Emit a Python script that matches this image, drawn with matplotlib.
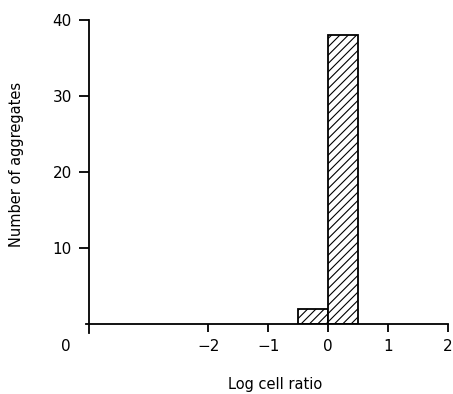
import matplotlib
matplotlib.use("Agg")
from matplotlib import pyplot as plt

plt.rcParams['hatch.linewidth'] = 0.8

bin_edges = [-0.5, 0.0, 0.5]
counts = [2, 38]
xticks = [-2, -1, 0, 1, 2]
yticks = [10, 20, 30, 40]

fig = plt.figure(figsize=(4.53, 3.94), dpi=100)
ax = fig.add_axes([0.189, 0.178, 0.800, 0.771])

lefts = bin_edges[:-1]
widths = [b - a for a, b in zip(bin_edges[:-1], bin_edges[1:])]
ax.bar(lefts, counts, width=widths, align='edge', color='white',
       edgecolor='black', linewidth=1.3, hatch='////')

ax.set_xlim(-4.05, 2.0)
ax.set_ylim(0, 40)
ax.spines['top'].set_visible(False)
ax.spines['right'].set_visible(False)
ax.spines['left'].set_position(('data', -4))
ax.spines['left'].set_linewidth(1.3)
ax.spines['bottom'].set_linewidth(1.3)
ax.spines['left'].set_bounds(-1.2, 40)
ax.spines['bottom'].set_bounds(-4.05, 2.0)

ax.set_xticks(xticks)
ax.set_xticklabels(['\u22122', '\u22121', '0', '1', '2'])
ax.set_yticks(yticks)
ax.tick_params(axis='both', direction='out', length=7, width=1.3,
               labelsize=11, colors='black')
ax.tick_params(axis='y', pad=5)
ax.tick_params(axis='x', length=6, pad=5)

# lone zero at the corner
ax.text(-4.38, -3.0, '0', ha='center', va='center', fontsize=11)

ax.set_xlabel('Log cell ratio', fontsize=10.5)
ax.set_ylabel('Number of aggregates', fontsize=10.5)
ax.xaxis.set_label_coords(0.523, -0.175)
ax.yaxis.set_label_coords(-0.17, 0.525)

fig.savefig('out.png', dpi=100)
